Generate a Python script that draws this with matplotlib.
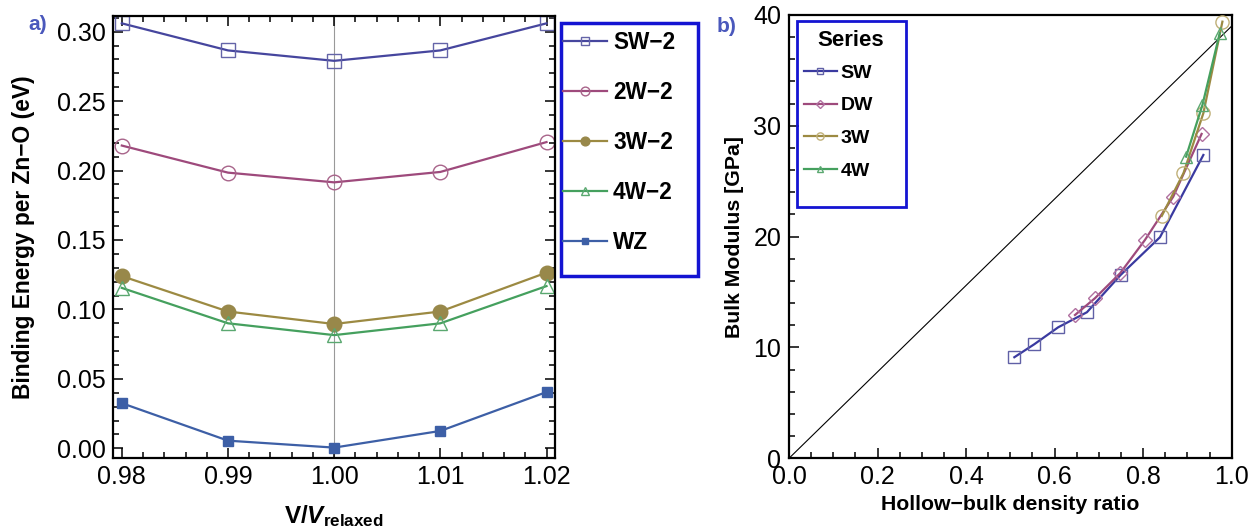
import matplotlib
matplotlib.use("Agg")
import matplotlib.pyplot as plt
from matplotlib.ticker import MultipleLocator, FormatStrFormatter
from matplotlib.patches import Rectangle

plt.rcParams['font.family'] = ['Liberation Sans', 'DejaVu Sans']
plt.rcParams['mathtext.fontset'] = 'custom'
plt.rcParams['mathtext.rm'] = 'Liberation Sans:bold'
plt.rcParams['mathtext.bf'] = 'Liberation Sans:bold'
plt.rcParams['mathtext.it'] = 'Liberation Sans:bold:italic'

# ---------------- data panel a ----------------
v_ratio = [0.98, 0.99, 1.00, 1.01, 1.02]
sw2 = [0.306, 0.2865, 0.279, 0.2865, 0.306]
w2_2 = [0.218, 0.1985, 0.1915, 0.199, 0.2205]
w3_2 = [0.124, 0.0985, 0.0895, 0.0985, 0.1265]
w4_2 = [0.1155, 0.090, 0.0815, 0.090, 0.1168]
wz = [0.0325, 0.0055, 0.0005, 0.0125, 0.0405]
labels_a = ['SW−2', '2W−2', '3W−2', '4W−2', 'WZ']

# ---------------- data panel b ----------------
sw_x = [0.509, 0.554, 0.608, 0.673, 0.749, 0.838, 0.936]
sw_y = [9.12, 10.29, 11.82, 13.18, 16.54, 19.95, 27.37]
dw_x = [0.646, 0.691, 0.748, 0.804, 0.868, 0.932]
dw_y = [12.93, 14.44, 16.70, 19.70, 23.61, 29.27]
w3_x = [0.842, 0.891, 0.936, 0.979]
w3_y = [21.87, 25.72, 31.14, 39.4]
w4_x = [0.897, 0.934, 0.973]
w4_y = [27.22, 31.9, 38.36]
diag_x = [0.0, 1.0]
diag_y = [0.0, 39.0]
labels_b = ['SW', 'DW', '3W', '4W']

c_sw = '#46469e'
c_2w = '#9e4a7c'
c_3w = '#9c8a42'
c_4w = '#45a05e'
c_wz = '#3d5fa6'
legend_edge = '#1414d2'
label_col = '#4a58bc'

fig = plt.figure(figsize=(12.52, 5.29), dpi=100)
W, H = 1252, 529

def fr(x0, y0, x1, y1):
    return [x0 / W, 1 - y1 / H, (x1 - x0) / W, (y1 - y0) / H]

ax1 = fig.add_axes(fr(113.3, 15.7, 555, 458.3))
ax2 = fig.add_axes(fr(789, 15, 1231.7, 458.3))

TICK_FS = 18
lw = 1.6
mew = 1.0
ax1.axvline(1.00, color='#999999', lw=0.8, zorder=0)
h1, = ax1.plot(v_ratio, sw2, color=c_sw, lw=lw, marker='s', ms=10, mfc='none', mec='#6464a8', mew=mew)
h2, = ax1.plot(v_ratio, w2_2, color=c_2w, lw=lw, marker='o', ms=10.5, mfc='none', mec='#a8648a', mew=mew)
h3, = ax1.plot(v_ratio, w3_2, color=c_3w, lw=lw, marker='o', ms=10.5, mfc='#98884a', mec='#98884a', mew=mew)
h4, = ax1.plot(v_ratio, w4_2, color=c_4w, lw=lw, marker='^', ms=10, mfc='none', mec='#5aa870', mew=mew)
h5, = ax1.plot(v_ratio, wz, color=c_wz, lw=lw, marker='s', ms=7.5, mfc=c_wz, mec=c_wz, mew=mew)

ax1.set_xlim(0.9792, 1.0208)
ax1.set_ylim(-0.0072, 0.3115)
ax1.xaxis.set_major_locator(MultipleLocator(0.01))
ax1.xaxis.set_minor_locator(MultipleLocator(0.002))
ax1.yaxis.set_major_locator(MultipleLocator(0.05))
ax1.yaxis.set_minor_locator(MultipleLocator(0.01))
ax1.xaxis.set_major_formatter(FormatStrFormatter('%.2f'))
ax1.yaxis.set_major_formatter(FormatStrFormatter('%.2f'))
ax1.tick_params(which='both', direction='in', top=True, right=True, labelsize=TICK_FS, width=1.1)
ax1.tick_params(axis='y', pad=5.5)
ax1.tick_params(axis='x', pad=4.8)
ax1.tick_params(which='major', length=7)
ax1.tick_params(which='minor', length=4)
for s in ax1.spines.values():
    s.set_linewidth(1.6)
ax1.set_ylabel('Binding Energy per Zn−O (eV)', fontsize=16.4, fontweight='bold', labelpad=16)
ax1.set_xlabel(r'$\mathbf{V}/\mathit{V}_{\mathbf{relaxed}}$', fontsize=17.5, labelpad=10)

# legend a (frame drawn as a rectangle in figure pixels)
fig.patches.append(Rectangle((561 / W, 1 - 276 / H), (698 - 561) / W, (276 - 22.7) / H,
                             transform=fig.transFigure, fill=False, ec=legend_edge, lw=2.5, zorder=3))
leg1 = fig.legend([h1, h2, h3, h4, h5], labels_a, loc='upper left',
                  bbox_to_anchor=(562.7 / W, 1 - 31.4 / H), bbox_transform=fig.transFigure,
                  borderaxespad=0, borderpad=0, frameon=False, handlelength=1.95,
                  handletextpad=0.27, labelspacing=1.19,
                  prop={'weight': 'bold', 'size': 16.3}, markerscale=0.6)

# panel b
ax2.plot(diag_x, diag_y, color='black', lw=0.8, zorder=1)
g1, = ax2.plot(sw_x, sw_y, color='#3a3aa0', lw=lw, marker='s', ms=8.5, mfc='none', mec='#6060a6', mew=mew, zorder=3)
g2, = ax2.plot(dw_x, dw_y, color=c_2w, lw=lw, marker='D', ms=7.5, mfc='none', mec='#b070a0', mew=mew, zorder=3)
g3, = ax2.plot(w3_x, w3_y, color=c_3w, lw=lw, marker='o', ms=9.5, mfc='none', mec='#c0b078', mew=mew, zorder=3)
g4, = ax2.plot(w4_x, w4_y, color=c_4w, lw=lw, marker='^', ms=9, mfc='none', mec='#5aa870', mew=mew, zorder=3)
ax2.set_xlim(0, 1)
ax2.set_ylim(0, 40)
ax2.xaxis.set_major_locator(MultipleLocator(0.2))
ax2.xaxis.set_minor_locator(MultipleLocator(0.05))
ax2.yaxis.set_major_locator(MultipleLocator(10))
ax2.yaxis.set_minor_locator(MultipleLocator(2))
ax2.xaxis.set_major_formatter(FormatStrFormatter('%.1f'))
ax2.yaxis.set_major_formatter(FormatStrFormatter('%d'))
ax2.tick_params(which='both', direction='in', top=False, right=False, labelsize=TICK_FS, width=1.1)
ax2.tick_params(axis='y', pad=5.5)
ax2.tick_params(axis='x', pad=4.8)
ax2.tick_params(which='major', length=7)
ax2.tick_params(which='minor', length=4)
for s in ax2.spines.values():
    s.set_linewidth(1.6)
ax2.set_ylabel('Bulk Modulus [GPa]', fontsize=15.3, fontweight='bold', labelpad=7)
ax2.set_xlabel('Hollow−bulk density ratio', fontsize=15.3, fontweight='bold', labelpad=4)

fig.patches.append(Rectangle((797.3 / W, 1 - 207 / H), (905.7 - 797.3) / W, (207 - 20.7) / H,
                             transform=fig.transFigure, fill=False, ec=legend_edge, lw=2.0, zorder=3))
fig.text(851 / W, 1 - 40.7 / H, 'Series', fontsize=16, fontweight='bold', ha='center', va='center')
leg2 = fig.legend([g1, g2, g3, g4], labels_b, loc='upper left',
                  bbox_to_anchor=(804 / W, 1 - 64.2 / H), bbox_transform=fig.transFigure,
                  borderaxespad=0, borderpad=0, frameon=False, handlelength=1.69,
                  handletextpad=0.2, labelspacing=0.77,
                  prop={'weight': 'bold', 'size': 14}, markerscale=0.55)

fig.text(28.6 / W, 1 - 25 / H, 'a)', color=label_col, fontsize=15, fontweight='bold', va='center', ha='left')
fig.text(716.7 / W, 1 - 26.7 / H, 'b)', color=label_col, fontsize=15, fontweight='bold', va='center', ha='left')

fig.savefig('out.png', dpi=100)
